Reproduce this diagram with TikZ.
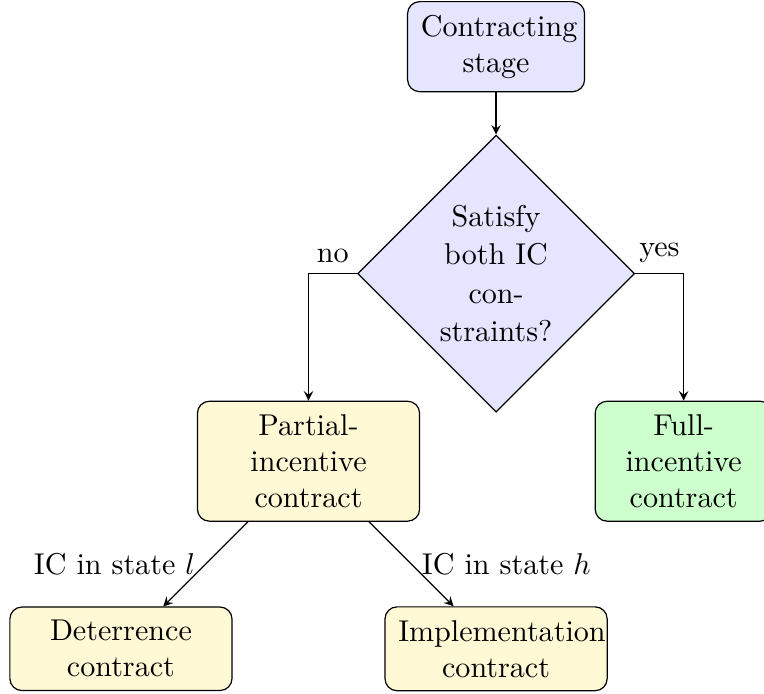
\documentclass[tikz,border=0pt]{standalone}
\usepackage{amsmath}
\usepackage{tikz}
\usetikzlibrary{arrows,shapes,positioning}
\definecolor{paleyellow}{RGB}{255,249,214}

\begin{document}
\begin{tikzpicture}[node distance=2.19cm, on grid, >=stealth,
        block/.style={rectangle, draw, rounded corners, text width=5em, text centered, inner sep=4.4pt},
        wideblock/.style={block, text width=6.5em},
        decision/.style={diamond, draw, fill=blue!10, text width=4.5em, text centered, inner sep=0pt, minimum size=92pt}]
                \useasboundingbox (-164.8pt,-215pt) rectangle (89pt,15.5pt);
                \node[block,fill=blue!10]          (start)                                  {Contracting\\ stage};
                \node[decision]                    (dec)     [below=2.65cm of start]        {Satisfy\\[0.7pt] both IC\\[0.7pt] con-\\[0.7pt] straints?};
                \node[wideblock,fill=paleyellow]   (partial) [below left=2.19cm and 2.19cm of dec]   {Partial-\\ incentive\\ contract};
                \node[block,fill=green!20]         (full)    [below right=2.19cm and 2.19cm of dec]  {Full-\\ incentive\\ contract};
                \node[wideblock,fill=paleyellow]   (deter)   [below left=2.19cm and 2.19cm of partial]  {Deterrence\\ contract};
                \node[wideblock,fill=paleyellow]   (impl)    [below right=2.19cm and 2.19cm of partial] {Implementation\\ contract};

                \path[->]
                        (start)   edge                               (dec)
                        (partial) edge node [left]  {IC in state $l$} (deter)
                        (partial) edge node [right] {IC in state $h$} (impl);
                \draw[->] (dec) -| node [near start, above] {no}  (partial);
                \draw[->] (dec) -| node [near start, above] {yes} (full);

        \end{tikzpicture}
\end{document}
